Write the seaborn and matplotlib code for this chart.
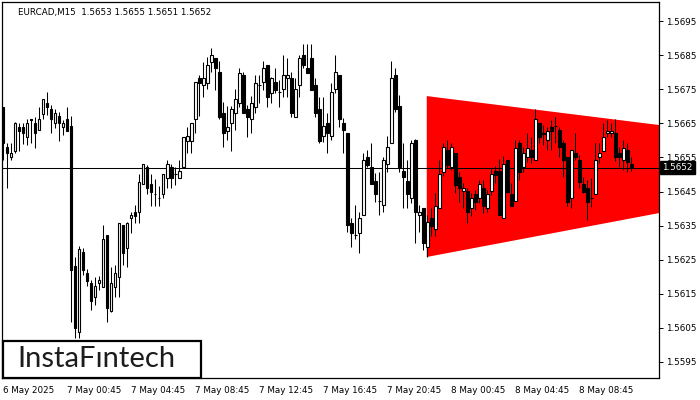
import pandas as pd
import numpy as np
import matplotlib.pyplot as plt
import matplotlib.transforms as mtransforms
from matplotlib.patches import Rectangle, Polygon
import seaborn as sns

# EURCAD M15 candles
opens = [
    1.56698, 1.56580, 1.56551, 1.56569, 1.56639, 1.56639, 1.56610, 1.56663, 1.56651, 1.56630,
    1.56677, 1.56710, 1.56692, 1.56651, 1.56671, 1.56639, 1.56663, 1.56642, 1.56231, 1.56038,
    1.56272, 1.56211, 1.56182, 1.56140, 1.56182, 1.56170, 1.56322, 1.56099, 1.56170, 1.56199,
    1.56352, 1.56284, 1.56372, 1.56390, 1.56390, 1.56472, 1.56522, 1.56472, 1.56443, 1.56431,
    1.56443, 1.56490, 1.56522, 1.56501, 1.56490, 1.56522, 1.56598, 1.56598, 1.56663, 1.56783,
    1.56762, 1.56768, 1.56830, 1.56841, 1.56800, 1.56680, 1.56627, 1.56651, 1.56680, 1.56710,
    1.56792, 1.56692, 1.56663, 1.56698, 1.56762, 1.56771, 1.56821, 1.56739, 1.56771, 1.56742,
    1.56751, 1.56783, 1.56783, 1.56668, 1.56762, 1.56850, 1.56812, 1.56841, 1.56762, 1.56692,
    1.56613, 1.56651, 1.56613, 1.56751, 1.56792, 1.56651, 1.56622, 1.56358, 1.56322, 1.56328,
    1.56381, 1.56551, 1.56522, 1.56481, 1.56422, 1.56410, 1.56531, 1.56592, 1.56792, 1.56701,
    1.56510, 1.56481, 1.56431, 1.56601, 1.56381, 1.56402, 1.56287, 1.56372, 1.56340, 1.56402,
    1.56507, 1.56572, 1.56522, 1.56563, 1.56492, 1.56451, 1.56451, 1.56402, 1.56443, 1.56431,
    1.56460, 1.56402, 1.56451, 1.56510, 1.56510, 1.56372, 1.56542, 1.56443, 1.56422, 1.56592,
    1.56522, 1.56551, 1.56572, 1.56542, 1.56651, 1.56622, 1.56601, 1.56639, 1.56642, 1.56630,
    1.56592, 1.56551, 1.56431, 1.56563, 1.56542, 1.56472, 1.56460, 1.56431, 1.56443, 1.56551,
    1.56569, 1.56622, 1.56622, 1.56622, 1.56563, 1.56542, 1.56572, 1.56530]
highs = [
    1.56698, 1.56592, 1.56592, 1.56654, 1.56651, 1.56651, 1.56663, 1.56663, 1.56668, 1.56698,
    1.56721, 1.56742, 1.56704, 1.56692, 1.56683, 1.56660, 1.56698, 1.56671, 1.56258, 1.56290,
    1.56284, 1.56223, 1.56190, 1.56199, 1.56202, 1.56352, 1.56322, 1.56228, 1.56234, 1.56358,
    1.56352, 1.56360, 1.56390, 1.56410, 1.56501, 1.56531, 1.56528, 1.56501, 1.56487, 1.56466,
    1.56501, 1.56542, 1.56531, 1.56522, 1.56542, 1.56610, 1.56639, 1.56651, 1.56771, 1.56792,
    1.56830, 1.56844, 1.56871, 1.56841, 1.56833, 1.56712, 1.56701, 1.56701, 1.56751, 1.56812,
    1.56800, 1.56704, 1.56730, 1.56792, 1.56792, 1.56833, 1.56821, 1.56786, 1.56812, 1.56777,
    1.56850, 1.56841, 1.56800, 1.56783, 1.56850, 1.56883, 1.56883, 1.56883, 1.56783, 1.56727,
    1.56727, 1.56680, 1.56768, 1.56850, 1.56792, 1.56666, 1.56622, 1.56372, 1.56410, 1.56390,
    1.56563, 1.56572, 1.56592, 1.56504, 1.56507, 1.56551, 1.56613, 1.56833, 1.56812, 1.56733,
    1.56592, 1.56542, 1.56601, 1.56604, 1.56410, 1.56402, 1.56381, 1.56402, 1.56446, 1.56542,
    1.56592, 1.56601, 1.56592, 1.56563, 1.56507, 1.56475, 1.56460, 1.56446, 1.56454, 1.56484,
    1.56484, 1.56454, 1.56519, 1.56525, 1.56545, 1.56554, 1.56542, 1.56475, 1.56601, 1.56601,
    1.56580, 1.56622, 1.56610, 1.56692, 1.56651, 1.56645, 1.56639, 1.56660, 1.56668, 1.56639,
    1.56601, 1.56551, 1.56572, 1.56622, 1.56557, 1.56492, 1.56484, 1.56490, 1.56592, 1.56592,
    1.56651, 1.56660, 1.56651, 1.56663, 1.56580, 1.56601, 1.56592, 1.56550]
lows = [
    1.56542, 1.56460, 1.56542, 1.56563, 1.56569, 1.56589, 1.56586, 1.56592, 1.56578, 1.56630,
    1.56663, 1.56674, 1.56622, 1.56636, 1.56598, 1.56616, 1.56627, 1.56067, 1.56020, 1.56020,
    1.56205, 1.56173, 1.56102, 1.56117, 1.56161, 1.56170, 1.56067, 1.56096, 1.56140, 1.56140,
    1.56234, 1.56228, 1.56328, 1.56358, 1.56358, 1.56472, 1.56443, 1.56407, 1.56407, 1.56407,
    1.56431, 1.56460, 1.56460, 1.56469, 1.56490, 1.56522, 1.56563, 1.56563, 1.56622, 1.56671,
    1.56727, 1.56751, 1.56800, 1.56748, 1.56663, 1.56580, 1.56601, 1.56569, 1.56630, 1.56698,
    1.56680, 1.56610, 1.56622, 1.56680, 1.56710, 1.56748, 1.56698, 1.56710, 1.56739, 1.56698,
    1.56727, 1.56727, 1.56668, 1.56668, 1.56727, 1.56812, 1.56798, 1.56748, 1.56668, 1.56592,
    1.56595, 1.56563, 1.56601, 1.56739, 1.56639, 1.56563, 1.56331, 1.56287, 1.56311, 1.56270,
    1.56381, 1.56522, 1.56472, 1.56419, 1.56381, 1.56390, 1.56507, 1.56592, 1.56683, 1.56507,
    1.56402, 1.56402, 1.56416, 1.56299, 1.56331, 1.56278, 1.56258, 1.56319, 1.56319, 1.56402,
    1.56495, 1.56519, 1.56513, 1.56446, 1.56419, 1.56402, 1.56358, 1.56378, 1.56396, 1.56416,
    1.56387, 1.56390, 1.56440, 1.56475, 1.56381, 1.56372, 1.56446, 1.56407, 1.56422, 1.56484,
    1.56507, 1.56536, 1.56534, 1.56542, 1.56592, 1.56586, 1.56572, 1.56572, 1.56592, 1.56551,
    1.56492, 1.56407, 1.56402, 1.56542, 1.56460, 1.56446, 1.56366, 1.56404, 1.56443, 1.56534,
    1.56569, 1.56610, 1.56610, 1.56539, 1.56522, 1.56513, 1.56507, 1.56510]
closes = [
    1.56592, 1.56563, 1.56563, 1.56651, 1.56627, 1.56622, 1.56651, 1.56660, 1.56622, 1.56663,
    1.56721, 1.56698, 1.56663, 1.56680, 1.56651, 1.56651, 1.56627, 1.56220, 1.56050, 1.56281,
    1.56220, 1.56187, 1.56129, 1.56173, 1.56190, 1.56311, 1.56108, 1.56182, 1.56211, 1.56358,
    1.56270, 1.56358, 1.56381, 1.56378, 1.56478, 1.56531, 1.56460, 1.56448, 1.56443, 1.56431,
    1.56501, 1.56531, 1.56490, 1.56501, 1.56510, 1.56610, 1.56613, 1.56651, 1.56771, 1.56768,
    1.56783, 1.56821, 1.56850, 1.56812, 1.56668, 1.56622, 1.56639, 1.56692, 1.56721, 1.56798,
    1.56680, 1.56668, 1.56710, 1.56768, 1.56762, 1.56812, 1.56727, 1.56783, 1.56748, 1.56742,
    1.56792, 1.56792, 1.56680, 1.56751, 1.56841, 1.56821, 1.56798, 1.56748, 1.56680, 1.56598,
    1.56642, 1.56622, 1.56742, 1.56800, 1.56663, 1.56630, 1.56352, 1.56328, 1.56322, 1.56372,
    1.56542, 1.56528, 1.56472, 1.56443, 1.56422, 1.56542, 1.56580, 1.56783, 1.56692, 1.56522,
    1.56492, 1.56443, 1.56592, 1.56390, 1.56390, 1.56299, 1.56360, 1.56349, 1.56407, 1.56501,
    1.56580, 1.56528, 1.56580, 1.56469, 1.56460, 1.56460, 1.56390, 1.56431, 1.56419, 1.56472,
    1.56407, 1.56443, 1.56501, 1.56498, 1.56381, 1.56531, 1.56448, 1.56407, 1.56578, 1.56507,
    1.56563, 1.56578, 1.56551, 1.56663, 1.56610, 1.56619, 1.56627, 1.56627, 1.56642, 1.56580,
    1.56542, 1.56419, 1.56572, 1.56551, 1.56478, 1.56448, 1.56419, 1.56431, 1.56542, 1.56563,
    1.56610, 1.56627, 1.56627, 1.56551, 1.56551, 1.56578, 1.56536, 1.56520]

# symmetrical triangle pattern (bar index, price)
tri_bars = [105.85, 164, 164, 105.85]
tri_prices = [1.56730, 1.56645, 1.56387, 1.56258]

last_price = 1.5652
title = 'EURCAD,M15  1.5653 1.5655 1.5651 1.5652'
xtick_bars = [0, 16, 32, 48, 64, 80, 96, 112, 128, 144]
xtick_labels = ['6 May 2025', '7 May 00:45', '7 May 04:45', '7 May 08:45', '7 May 12:45',
                '7 May 16:45', '7 May 20:45', '8 May 00:45', '8 May 04:45', '8 May 08:45']
ytick_prices = [1.5595, 1.5605, 1.5615, 1.5625, 1.5635, 1.5645, 1.5655, 1.5665, 1.5675, 1.5685, 1.5695]

df = pd.DataFrame({'open': opens, 'high': highs, 'low': lows, 'close': closes})
df['bar'] = np.arange(len(df))
df['bull'] = df['close'] >= df['open']

sns.set_style('white')
plt.rcParams['font.family'] = ['DejaVu Sans']

fig = plt.figure(figsize=(7, 4), dpi=100)
fig.patch.set_facecolor('white')
ax = fig.add_axes([2/700, 22/400, 657/700, 376/400])

# triangle
ax.add_patch(Polygon(list(zip(tri_bars, tri_prices)), closed=True, fc='#ff0000', ec='none', zorder=1))

# current price line
ax.axhline(last_price, color='black', lw=0.75, zorder=2)

# wicks + bodies
ax.vlines(df['bar'], df['low'], df['high'], color='black', lw=0.75, zorder=3)
body_lo = df[['open', 'close']].min(axis=1)
body_h = (df['open'] - df['close']).abs()
ax.bar(df['bar'], body_h, bottom=body_lo, width=0.58,
       color=np.where(df['bull'], 'white', 'black'), edgecolor='black', linewidth=0.8, zorder=4)

ax.set_xlim(-0.33, 163.9)
ax.set_ylim(1.55903, 1.57006)

for s in ax.spines.values():
    s.set_color('black')
    s.set_linewidth(0.9)

ax.yaxis.tick_right()
ax.set_yticks(ytick_prices)
ax.set_yticklabels([f'{p:.4f}' for p in ytick_prices])
ax.set_xticks(xtick_bars)
ax.set_xticklabels(xtick_labels, ha='left')
ax.tick_params(axis='both', direction='out', length=3, width=0.7, color='black',
               labelsize=6.3, labelcolor='black', pad=2)
ax.tick_params(axis='x', pad=3)
ax.grid(False)

# price tag on the right
trans = mtransforms.blended_transform_factory(ax.transAxes, ax.transData)
ax.text(1.005, last_price, f'{last_price:.4f}', transform=trans, ha='left', va='center',
        fontsize=6.3, color='white', zorder=10, clip_on=False,
        bbox=dict(boxstyle='square,pad=0.25', fc='black', ec='black'))

fig.text(18/700, 1 - 12/400, title, ha='left', va='center', fontsize=6.3, color='black')

# logo box
fig.patches.append(Rectangle((3/700, 22/400), 198/700, 37/400, transform=fig.transFigure,
                             fc='white', ec='black', lw=1.6, zorder=20))
fig.text(96/700, 41/400, 'InstaF\u0131ntech', ha='center', va='center', fontsize=21,
         family=['Lato', 'DejaVu Sans'], color='#1c1c1c', zorder=21)

plt.savefig('out.png', dpi=100, facecolor='white')
